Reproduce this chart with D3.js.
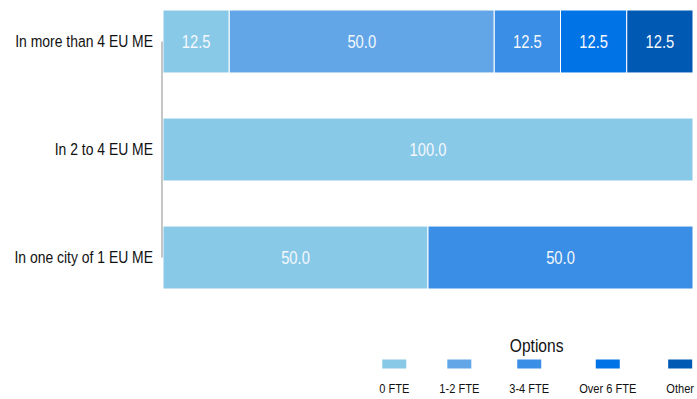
<!DOCTYPE html>
<html>
<head>
<meta charset="utf-8">
<script src="https://cdn.jsdelivr.net/npm/d3@7"></script>
<style>
  body { margin: 0; background: #fff; }
  svg { display: block; font-family: "Liberation Sans", Arial, sans-serif; }
</style>
</head>
<body>
<svg id="chart" width="697" height="399"></svg>
<script>
// Data
const categories = ["In more than 4 EU ME", "In 2 to 4 EU ME", "In one city of 1 EU ME"];
const options = ["0 FTE", "1-2 FTE", "3-4 FTE", "Over 6 FTE", "Other"];
const zeroFte = [12.5, 100, 50];
const oneTwoFte = [50, 0, 0];
const threeFourFte = [12.5, 0, 50];
const overSixFte = [12.5, 0, 0];
const other = [12.5, 0, 0];
const colors = ["#89c9e8", "#62a6e8", "#3a8ee6", "#0073e6", "#0059b3"];

const seriesValues = [zeroFte, oneTwoFte, threeFourFte, overSixFte, other];
const rows = categories.map((c, i) => {
    const r = { category: c };
    options.forEach((o, j) => r[o] = seriesValues[j][i]);
    return r;
});

// the original font is condensed, squeeze Liberation Sans horizontally
const squeeze = 0.82;

const svg = d3.select("#chart");

const x = d3.scaleLinear().domain([0, 100]).range([163, 693]);
const y = d3.scaleBand().domain(categories).range([10, 289]).paddingInner(0.417).paddingOuter(0);
const color = d3.scaleOrdinal().domain(options).range(colors);

const stacked = d3.stack().keys(options)(rows);

// bars
const layers = svg.append("g")
    .selectAll("g")
    .data(stacked)
    .join("g")
    .attr("fill", d => color(d.key));

layers.selectAll("rect")
    .data(d => d.filter(p => p[1] - p[0] > 0))
    .join("rect")
    .attr("x", d => x(d[0]))
    .attr("y", d => y(d.data.category))
    .attr("width", d => x(d[1]) - x(d[0]))
    .attr("height", y.bandwidth())
    .attr("stroke", "#fff")
    .attr("stroke-width", 1);

// value labels
layers.selectAll("text")
    .data(d => d.filter(p => p[1] - p[0] > 0))
    .join("text")
    .attr("transform", d => `translate(${(x(d[0]) + x(d[1])) / 2},${y(d.data.category) + y.bandwidth() / 2}) scale(${squeeze},1)`)
    .attr("dy", "0.36em")
    .attr("text-anchor", "middle")
    .attr("font-size", "18px")
    .attr("fill", "#f4f8fc")
    .text(d => (d[1] - d[0]).toFixed(1));

// y axis
const yAxis = svg.append("g")
    .attr("transform", "translate(162,0)")
    .call(d3.axisLeft(y).tickSize(0).tickPadding(0));
yAxis.select(".domain").remove();
yAxis.append("line")
    .attr("y1", y(categories[0]) + y.bandwidth() / 2)
    .attr("y2", y(categories[categories.length - 1]) + y.bandwidth() / 2)
    .attr("stroke", "#a0a0a0")
    .attr("stroke-width", 1.2);
yAxis.selectAll(".tick text")
    .attr("font-family", null)
    .attr("font-size", "17px")
    .attr("fill", "#111")
    .attr("x", null)
    .attr("transform", `translate(-9,0) scale(${squeeze},1)`);

// legend
const legend = svg.append("g");
const items = legend.selectAll("g")
    .data(options)
    .join("g");
items.append("text")
    .attr("text-anchor", "middle")
    .attr("transform", `translate(0,388) scale(${squeeze},1)`)
    .attr("dy", "0.36em")
    .attr("font-size", "13.5px")
    .attr("fill", "#111")
    .text(d => d);

const widths = [];
items.select("text").each(function () { widths.push(this.getComputedTextLength() * squeeze); });
const gap = 30;
const total = d3.sum(widths) + gap * (widths.length - 1);
let cursor = 694 - total;
const centers = widths.map(w => { const c = cursor + w / 2; cursor += w + gap; return c; });

items.attr("transform", (d, i) => `translate(${centers[i]},0)`);
items.append("rect")
    .attr("x", -12)
    .attr("y", 359.5)
    .attr("width", 24)
    .attr("height", 9)
    .attr("fill", d => color(d));

legend.append("text")
    .attr("transform", `translate(${(694 - total + 694) / 2},345) scale(${squeeze},1)`)
    .attr("dy", "0.36em")
    .attr("text-anchor", "middle")
    .attr("font-size", "19px")
    .attr("fill", "#111")
    .text("Options");
</script>
</body>
</html>
